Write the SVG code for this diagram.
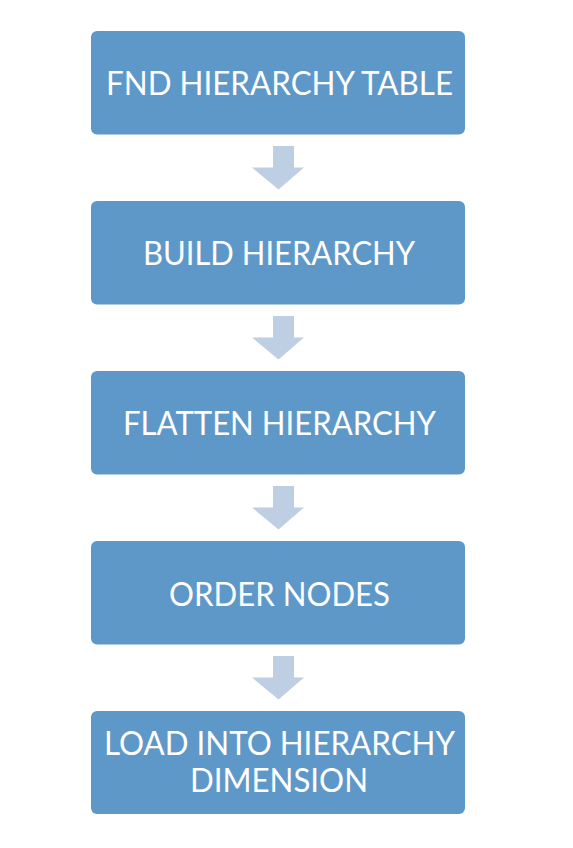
<svg xmlns="http://www.w3.org/2000/svg" width="573" height="848" viewBox="0 0 573 848">
<style>
.box{fill:#5E98C8}
.arr{fill:#BECEE3}
.t{font-family:Lato,"Liberation Sans",Arial,sans-serif;font-size:33px;fill:#FFFFFF;text-anchor:middle}
</style>
<rect width="573" height="848" fill="#FFFFFF"/>
<g id="connectors">
<polygon class="arr" points="273,146 294,146 294,167.5 304,167.5 278.5,189.5 252,167.5 273,167.5"/>
<polygon class="arr" points="273,316 294,316 294,337.5 304,337.5 278.5,359.5 252,337.5 273,337.5"/>
<polygon class="arr" points="273,486 294,486 294,507.5 304,507.5 278.5,529.5 252,507.5 273,507.5"/>
<polygon class="arr" points="273,656 294,656 294,677.5 304,677.5 278.5,699.5 252,677.5 273,677.5"/>
</g>
<g id="node1">
<rect class="box" x="91" y="31" width="374" height="103.5" rx="6"/>
<text class="t" x="279.5" y="95" textLength="347" lengthAdjust="spacingAndGlyphs">FND HIERARCHY TABLE</text>
</g>
<g id="node2">
<rect class="box" x="91" y="201" width="374" height="103.5" rx="6"/>
<text class="t" x="279" y="265" textLength="272" lengthAdjust="spacingAndGlyphs">BUILD HIERARCHY</text>
</g>
<g id="node3">
<rect class="box" x="91" y="371" width="374" height="103.5" rx="6"/>
<text class="t" x="279.5" y="435" textLength="313" lengthAdjust="spacingAndGlyphs">FLATTEN HIERARCHY</text>
</g>
<g id="node4">
<rect class="box" x="91" y="541" width="374" height="103.5" rx="6"/>
<text class="t" x="279.5" y="605.5" textLength="221" lengthAdjust="spacingAndGlyphs">ORDER NODES</text>
</g>
<g id="node5">
<rect class="box" x="91" y="711" width="374" height="103" rx="6"/>
<text class="t" x="279.5" y="755" textLength="351" lengthAdjust="spacingAndGlyphs">LOAD INTO HIERARCHY</text>
<text class="t" x="279" y="792" textLength="178" lengthAdjust="spacingAndGlyphs">DIMENSION</text>
</g>
</svg>
